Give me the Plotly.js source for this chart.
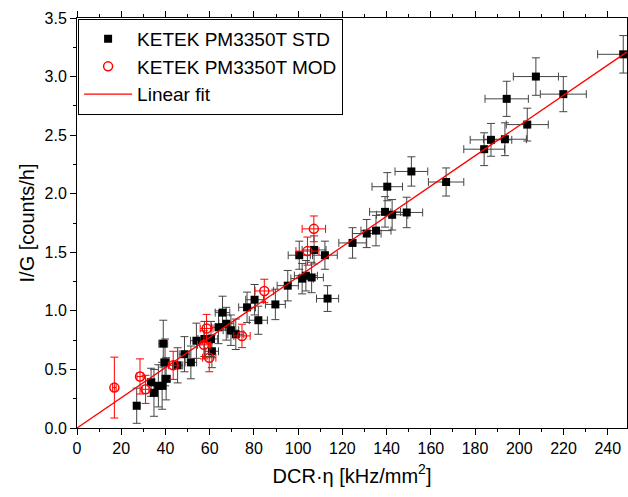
<!DOCTYPE html>
<html>
<head>
<meta charset="utf-8">
<script src="https://cdn.plot.ly/plotly-3.0.1.min.js"></script>
<style>html,body{margin:0;padding:0;background:#fff;}#chart{width:628px;height:497px;}</style>
</head>
<body>
<div id="chart"></div>
<script>
// KETEK PM3350T STD
const stdX  = [27.0, 33.5, 34.8, 36.8, 38.5, 39.0, 39.8, 40.3, 45.5, 48.6, 51.5, 54.0, 57.6, 60.6, 61.0, 64.0, 65.8, 67.5, 69.6, 71.8, 76.9, 80.3, 82.0, 89.7, 95.3, 100.5, 101.8, 103.5, 106.1, 107.2, 112.1, 113.3, 124.6, 131.0, 135.2, 139.3, 140.3, 142.5, 149.1, 151.2, 166.9, 184.1, 187.2, 193.5, 194.3, 203.6, 207.5, 219.9, 247.0];
const stdY  = [0.19, 0.39, 0.30, 0.36, 0.36, 0.72, 0.56, 0.42, 0.535, 0.63, 0.56, 0.745, 0.76, 0.76, 0.655, 0.86, 0.985, 0.89, 0.835, 0.80, 1.03, 1.095, 0.92, 1.055, 1.215, 1.475, 1.275, 1.30, 1.285, 1.52, 1.475, 1.105, 1.58, 1.66, 1.685, 1.845, 2.06, 1.82, 1.84, 2.19, 2.10, 2.38, 2.46, 2.465, 2.81, 2.59, 3.00, 2.85, 3.19];
const stdEX = [1.3, 1.7, 1.7, 1.8, 1.9, 2.0, 2.0, 2.0, 2.3, 2.4, 2.6, 2.7, 2.9, 3.0, 3.0, 3.2, 3.3, 3.4, 3.5, 3.6, 3.8, 4.0, 4.1, 4.5, 4.8, 5.0, 5.1, 5.2, 5.3, 5.4, 5.6, 5.0, 6.2, 6.5, 6.8, 7.0, 6.9, 7.1, 7.2, 7.4, 8.0, 9.2, 9.4, 9.7, 9.8, 9.5, 10.2, 10.4, 11.6];
const stdEY = [0.15, 0.12, 0.20, 0.18, 0.20, 0.20, 0.20, 0.18, 0.15, 0.15, 0.14, 0.15, 0.15, 0.15, 0.14, 0.14, 0.14, 0.14, 0.13, 0.13, 0.13, 0.13, 0.12, 0.13, 0.13, 0.12, 0.13, 0.13, 0.13, 0.12, 0.12, 0.11, 0.13, 0.12, 0.13, 0.13, 0.12, 0.13, 0.13, 0.125, 0.12, 0.14, 0.14, 0.14, 0.15, 0.14, 0.16, 0.15, 0.16];

// KETEK PM3350T MOD
const modX  = [16.9, 28.5, 31.0, 43.5, 57.4, 58.6, 59.8, 74.6, 84.7, 104.2, 107.1];
const modY  = [0.345, 0.44, 0.33, 0.535, 0.71, 0.85, 0.60, 0.786, 1.17, 1.51, 1.70];
const modEX = [0.8, 1.4, 1.5, 2.2, 2.9, 2.9, 3.0, 3.7, 4.2, 5.2, 5.3];
const modEY = [0.26, 0.15, 0.12, 0.12, 0.12, 0.12, 0.12, 0.10, 0.10, 0.12, 0.11];

// Linear fit parameters
const fitSlope = 0.01291;
const fitIntercept = 0.0;
const fitRange = [0, 248.7];

const xTickVals = [0, 20, 40, 60, 80, 100, 120, 140, 160, 180, 200, 220, 240];
const yTickVals = [0.0, 0.5, 1.0, 1.5, 2.0, 2.5, 3.0, 3.5];

const fitX = fitRange.slice();
const fitY = fitX.map(x => fitIntercept + fitSlope * x);

const FONT = 'Liberation Sans, Arial, sans-serif';

const traces = [
  {
    x: stdX, y: stdY, type: 'scatter', mode: 'markers', name: 'KETEK PM3350T STD',
    marker: {symbol: 'square', size: 8, color: 'black'},
    error_x: {type: 'data', array: stdEX, visible: true, color: '#444', thickness: 1, width: 4},
    error_y: {type: 'data', array: stdEY, visible: true, color: '#444', thickness: 1, width: 4}
  },
  {
    x: modX, y: modY, type: 'scatter', mode: 'markers', name: 'KETEK PM3350T MOD',
    marker: {symbol: 'circle-open', size: 9, color: 'red', line: {color: 'red', width: 1.5}},
    error_x: {type: 'data', array: modEX, visible: true, color: 'red', thickness: 1, width: 4},
    error_y: {type: 'data', array: modEY, visible: true, color: 'red', thickness: 1, width: 4}
  },
  {
    x: fitX, y: fitY, type: 'scatter', mode: 'lines', name: 'Linear fit',
    line: {color: 'red', width: 1.3}
  }
];

const layout = {
  width: 628, height: 497,
  margin: {l: 77, r: 1, t: 18, b: 69},
  paper_bgcolor: 'white', plot_bgcolor: 'white',
  font: {family: FONT, color: 'black', size: 16},
  showlegend: true,
  legend: {
    x: 0.002, y: 0.998, xanchor: 'left', yanchor: 'top',
    bgcolor: 'white', bordercolor: 'black', borderwidth: 1,
    font: {family: FONT, size: 19, color: 'black'},
    itemwidth: 48,
    tracegroupgap: 0
  },
  xaxis: {
    range: [0, 248.7], tickmode: 'array', tickvals: xTickVals,
    ticks: 'outside', ticklen: 6, tickwidth: 1, tickcolor: 'black',
    showline: true, linecolor: 'black', linewidth: 1, mirror: 'ticks',
    showgrid: false, zeroline: false,
    minor: {dtick: 10, tick0: 0, ticks: 'outside', ticklen: 3, tickcolor: 'black', showgrid: false},
    tickfont: {family: FONT, size: 16},
    title: {text: 'DCR·η [kHz/mm<sup>2</sup>]', font: {family: FONT, size: 20}, standoff: 12}
  },
  yaxis: {
    range: [0, 3.5], tickmode: 'array', tickvals: yTickVals, tickformat: '.1f',
    ticks: 'outside', ticklen: 6, tickwidth: 1, tickcolor: 'black',
    showline: true, linecolor: 'black', linewidth: 1, mirror: 'ticks',
    showgrid: false, zeroline: false,
    minor: {dtick: 0.25, tick0: 0, ticks: 'outside', ticklen: 3, tickcolor: 'black', showgrid: false},
    tickfont: {family: FONT, size: 16},
    title: {text: 'I/G [counts/h]', font: {family: FONT, size: 20}, standoff: 4}
  }
};

Plotly.newPlot('chart', traces, layout, {displayModeBar: false, staticPlot: true});
</script>
</body>
</html>
